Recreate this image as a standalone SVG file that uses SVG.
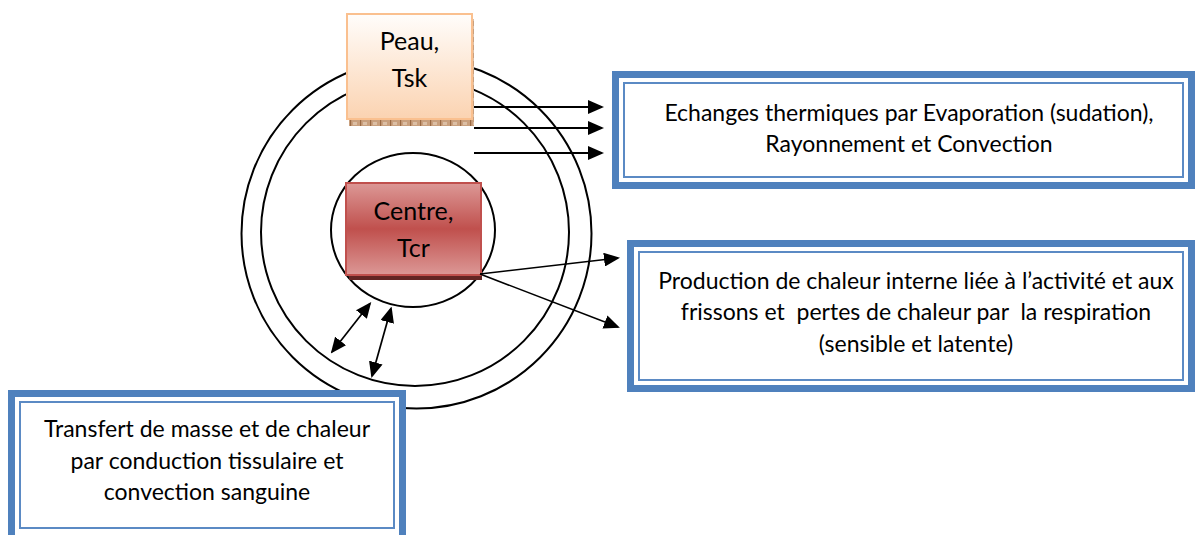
<svg xmlns="http://www.w3.org/2000/svg" width="1195" height="535" viewBox="0 0 1195 535">
  <defs>
    <linearGradient id="gPeau" x1="0" y1="0" x2="0" y2="1">
      <stop offset="0" stop-color="#fffdfb"/>
      <stop offset="1" stop-color="#fbd3b1"/>
    </linearGradient>
    <linearGradient id="gCentre" x1="0" y1="0" x2="0" y2="1">
      <stop offset="0" stop-color="#dc9896"/>
      <stop offset="0.5" stop-color="#c0504d"/>
      <stop offset="1" stop-color="#dc9896"/>
    </linearGradient>
    <pattern id="pShadow" x="0" y="0" width="10" height="8" patternUnits="userSpaceOnUse">
      <rect width="10" height="8" fill="#c9a07e"/>
      <rect x="0" y="0" width="1.2" height="8" fill="#9b6a44"/>
      <rect x="3" y="2" width="4" height="3" fill="#dcbfa5"/>
    </pattern>
    <marker id="ah" viewBox="0 0 16 14" refX="14" refY="7" markerWidth="16" markerHeight="14" markerUnits="userSpaceOnUse" orient="auto-start-reverse">
      <path d="M0,0 L16,7 L0,14 z" fill="#000"/>
    </marker>
    <style>
      .ring { fill: none; stroke: #000; stroke-width: 2; }
      .conn { fill: none; stroke: #000; stroke-width: 2; marker-end: url(#ah); }
      .conn2 { fill: none; stroke: #000; stroke-width: 1.7; marker-end: url(#ah); marker-start: url(#ah); }
      .frameOut { fill: #fff; stroke: #4f81bd; stroke-width: 7; }
      .frameIn { fill: none; stroke: #5b8ac4; stroke-width: 2; }
      .node { font-family: "Lato", "Carlito", "Liberation Sans", sans-serif; font-size: 25px; fill: #000; text-anchor: middle; }
      .lbl { font-family: "Lato", "Carlito", "Liberation Sans", sans-serif; font-size: 23px; fill: #000; text-anchor: middle; white-space: pre; }
    </style>
  </defs>

  <g id="rings">
    <circle class="ring" cx="416.5" cy="233.5" r="175"/>
    <circle class="ring" cx="415" cy="232" r="154"/>
    <ellipse class="ring" cx="413" cy="230" rx="82" ry="77"/>
  </g>

  <g id="peau">
    <rect x="349" y="19" width="125" height="107" fill="url(#pShadow)"/>
    <rect x="347" y="14" width="125" height="105" fill="url(#gPeau)" stroke="#fac08f" stroke-width="2"/>
    <text class="node" x="409.5" y="50">Peau,</text>
    <text class="node" x="409.5" y="87">Tsk</text>
  </g>

  <g id="centre">
    <rect x="349" y="188" width="133" height="92" fill="#632523"/>
    <rect x="346" y="183" width="135" height="92" fill="url(#gCentre)" stroke="#c0504d" stroke-width="2"/>
    <text class="node" x="413.5" y="220">Centre,</text>
    <text class="node" x="413.5" y="257">Tcr</text>
  </g>

  <g id="echanges">
    <rect class="frameOut" x="615.5" y="74.5" width="576" height="111"/>
    <rect class="frameIn" x="624" y="83" width="559" height="94"/>
    <text class="lbl" x="909" y="121">Echanges thermiques par Evaporation (sudation),</text>
    <text class="lbl" x="909" y="152">Rayonnement et Convection</text>
  </g>

  <g id="production">
    <rect class="frameOut" x="630.5" y="243.5" width="561" height="145"/>
    <rect class="frameIn" x="639" y="252" width="544" height="128"/>
    <text class="lbl" x="916" y="289">Production de chaleur interne liée à l’activité et aux</text>
    <text class="lbl" x="916" y="320">frissons et  pertes de chaleur par  la respiration</text>
    <text class="lbl" x="916" y="352">(sensible et latente)</text>
  </g>

  <g id="transfert">
    <rect class="frameOut" x="11.5" y="393.5" width="391" height="150"/>
    <rect class="frameIn" x="20" y="402" width="374" height="126"/>
    <text class="lbl" x="207" y="437">Transfert de masse et de chaleur</text>
    <text class="lbl" x="207" y="469">par conduction tissulaire et</text>
    <text class="lbl" x="207" y="500">convection sanguine</text>
  </g>

  <g id="connectors">
    <line class="conn" x1="474" y1="107" x2="602" y2="107"/>
    <line class="conn" x1="474" y1="128" x2="602" y2="128"/>
    <line class="conn" x1="474" y1="153" x2="602" y2="153"/>
    <line class="conn" style="stroke-width:1.6" x1="480" y1="274" x2="618" y2="258"/>
    <line class="conn" style="stroke-width:1.6" x1="480" y1="274" x2="618" y2="327"/>
    <line class="conn2" x1="370" y1="303.5" x2="332" y2="352"/>
    <line class="conn2" x1="391" y1="308.5" x2="372" y2="376"/>
  </g>
</svg>
